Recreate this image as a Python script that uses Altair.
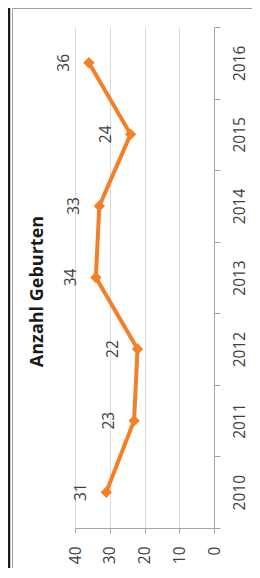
import altair as alt
import pandas as pd

# Data
years = ["2010", "2011", "2012", "2013", "2014", "2015", "2016"]
births = [31, 23, 22, 34, 33, 24, 36]
value_ticks = [0, 10, 20, 30, 40]
title_text = "Anzahl Geburten"

df = pd.DataFrame({"year": years, "births": births})

FONT = "Open Sans"
ORANGE = "#F37F26"
AXIS_GREY = "#a6a6a6"
TEXT = "#404040"
FS = 15.5

W, H = 139, 501
PAD = {"left": 67, "top": 19, "right": 38, "bottom": 40}

x_enc = alt.X(
    "births:Q",
    scale=alt.Scale(domain=[0, 40], reverse=True, nice=False),
    axis=alt.Axis(
        orient="bottom", values=value_ticks, tickCount=5, title=None, grid=True,
        gridColor="#d9d9d9", gridWidth=1, domainColor=AXIS_GREY, tickColor=AXIS_GREY,
        tickSize=5, labelAngle=270, labelAlign="right", labelBaseline="middle",
        labelPadding=13, labelFont=FONT, labelFontSize=FS, labelColor=TEXT,
        labelFlush=False, labelOverlap=False, labelBound=False,
    ),
)
y_enc = alt.Y(
    "year:O",
    sort="descending",
    scale=alt.Scale(type="band", paddingInner=0, paddingOuter=0),
    axis=alt.Axis(
        orient="right", title=None, grid=False, tickBand="extent",
        domainColor=AXIS_GREY, tickColor=AXIS_GREY, tickSize=6,
        labelAngle=270, labelAlign="center", labelBaseline="top", labelPadding=12,
        labelFont=FONT, labelFontSize=FS, labelColor=TEXT,
        labelOverlap=False, labelBound=False,
    ),
)

base = alt.Chart(df).encode(x=x_enc, y=y_enc)
line = base.mark_line(color=ORANGE, strokeWidth=4)
points = base.mark_point(shape="diamond", filled=True, size=130, color=ORANGE, opacity=1)
labels = base.mark_text(
    angle=270, align="center", baseline="middle", dy=-25,
    font=FONT, fontSize=FS, color=TEXT,
).encode(text="births:Q")

one = alt.Chart(pd.DataFrame({"k": [0]}))
title = one.mark_text(
    angle=270, align="center", baseline="alphabetic", font=FONT,
    fontSize=18, fontWeight="bold", color="#1a1a1a",
).encode(x=alt.value(-32), y=alt.value(264.5), text=alt.value(title_text))

black_edge = one.mark_rule(color="#1a1a1a", strokeWidth=2.5).encode(
    x=alt.value(-66), y=alt.value(-19), y2=alt.value(541)
)
frame_left = one.mark_rule(color="#a0a0a0", strokeWidth=1).encode(
    x=alt.value(-62.5), y=alt.value(-18.5), y2=alt.value(541)
)
frame_top = one.mark_rule(color="#a0a0a0", strokeWidth=1).encode(
    x=alt.value(-62.5), x2=alt.value(177), y=alt.value(-18.5)
)

chart = alt.layer(
    line, points, labels, title, black_edge, frame_left, frame_top
).properties(
    width=W, height=H, padding=PAD,
    autosize=alt.AutoSizeParams(type="none"),
    background="white",
).configure_view(stroke=None)

chart.save("out.html", embed_options={"renderer": "svg", "actions": False})
